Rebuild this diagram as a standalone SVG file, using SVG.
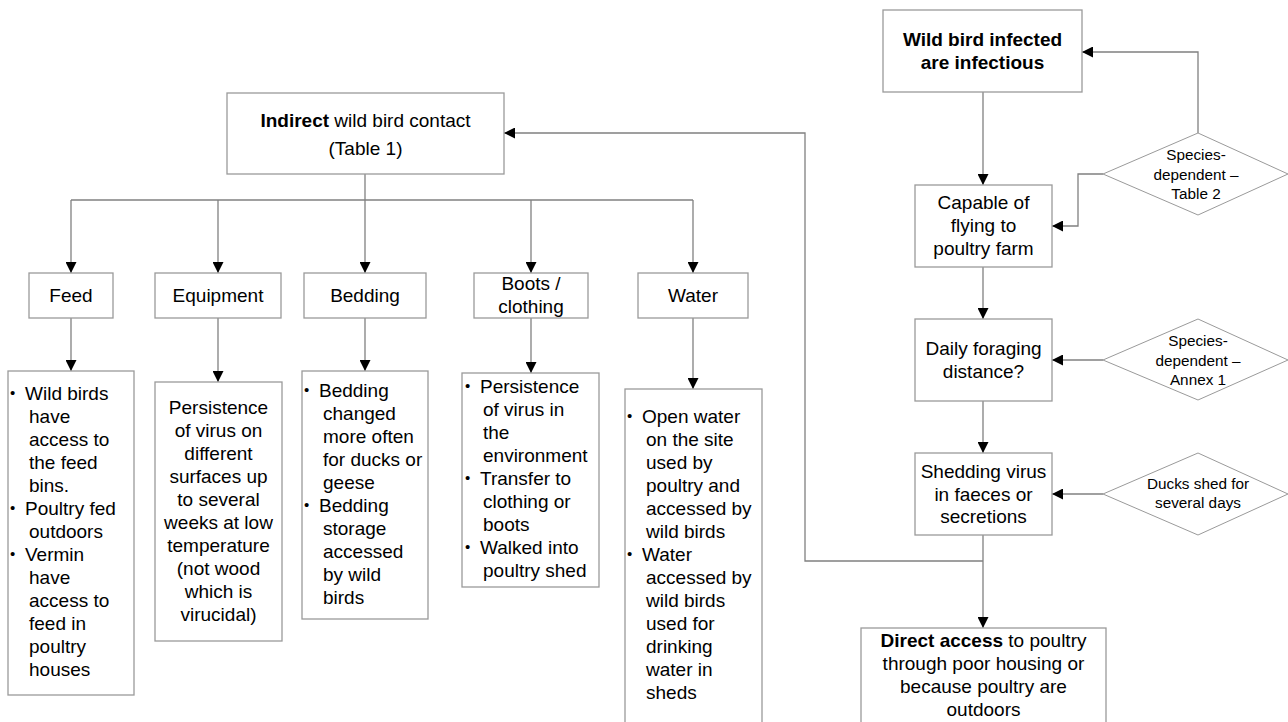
<svg xmlns="http://www.w3.org/2000/svg" width="1288" height="722" viewBox="0 0 1288 722">
<style>
.box{fill:#fff;stroke:#9a9a9a;stroke-width:1.3}
.dia{fill:#fff;stroke:#9a9a9a;stroke-width:1}
.ln{fill:none;stroke:#808080;stroke-width:1.3}
text{font-family:"Liberation Sans",Arial,sans-serif;font-size:19px;fill:#000}
.c{text-anchor:middle}
.s{font-size:15.3px}
.b{font-weight:bold}
.bl{font-size:15px}
</style>
<defs>
<marker id="ah" markerUnits="userSpaceOnUse" markerWidth="11" markerHeight="11" refX="11" refY="5.5" orient="auto">
<path d="M0,0 L11,5.5 L0,11 z" fill="#000"/>
</marker>
</defs>
<rect width="1288" height="722" fill="#fff"/>

<g id="connectors">
<path class="ln" d="M365,174 V200"/>
<path class="ln" d="M71,200 H693"/>
<path class="ln" d="M71,200 V273" marker-end="url(#ah)"/>
<path class="ln" d="M218,200 V273" marker-end="url(#ah)"/>
<path class="ln" d="M365,200 V273" marker-end="url(#ah)"/>
<path class="ln" d="M531,200 V273" marker-end="url(#ah)"/>
<path class="ln" d="M693,200 V273" marker-end="url(#ah)"/>
<path class="ln" d="M71,318 V371" marker-end="url(#ah)"/>
<path class="ln" d="M218,318 V382" marker-end="url(#ah)"/>
<path class="ln" d="M365,318 V371" marker-end="url(#ah)"/>
<path class="ln" d="M531,318 V373" marker-end="url(#ah)"/>
<path class="ln" d="M693,318 V389" marker-end="url(#ah)"/>
<path class="ln" d="M983,92 V185" marker-end="url(#ah)"/>
<path class="ln" d="M983,267 V319" marker-end="url(#ah)"/>
<path class="ln" d="M983,401 V453" marker-end="url(#ah)"/>
<path class="ln" d="M983,535 V628" marker-end="url(#ah)"/>
<path class="ln" d="M983,561 H805 V133 H504" marker-end="url(#ah)"/>
<path class="ln" d="M1198,133 V52 H1082" marker-end="url(#ah)"/>
<path class="ln" d="M1103,174 H1078 V226 H1052" marker-end="url(#ah)"/>
<path class="ln" d="M1103,360 H1052" marker-end="url(#ah)"/>
<path class="ln" d="M1103,494 H1052" marker-end="url(#ah)"/>
</g>

<g id="indirect">
<rect class="box" x="227" y="93" width="277" height="81"/>
<text class="c" x="365.5" y="127"><tspan class="b">Indirect</tspan> wild bird contact</text>
<text class="c" x="365.5" y="155">(Table 1)</text>
</g>

<g id="feed">
<rect class="box" x="29" y="273" width="84" height="45"/>
<text class="c" x="71" y="301.5">Feed</text>
</g>
<g id="equipment">
<rect class="box" x="155" y="273" width="126" height="45"/>
<text class="c" x="218" y="301.5">Equipment</text>
</g>
<g id="bedding">
<rect class="box" x="304" y="273" width="122" height="45"/>
<text class="c" x="365" y="301.5">Bedding</text>
</g>
<g id="boots">
<rect class="box" x="474" y="273" width="114" height="45"/>
<text class="c" x="531" y="290">Boots /</text>
<text class="c" x="531" y="313">clothing</text>
</g>
<g id="water">
<rect class="box" x="638" y="273" width="110" height="45"/>
<text class="c" x="693" y="301.5">Water</text>
</g>

<g id="feed-detail">
<rect class="box" x="8" y="371" width="126" height="324"/>
<text class="bl" x="10" y="398">•</text>
<text x="25" y="400">Wild birds</text>
<text x="29" y="423">have</text>
<text x="29" y="446">access to</text>
<text x="29" y="469">the feed</text>
<text x="29" y="492">bins.</text>
<text class="bl" x="10" y="513">•</text>
<text x="25" y="515">Poultry fed</text>
<text x="29" y="538">outdoors</text>
<text class="bl" x="10" y="559">•</text>
<text x="25" y="561">Vermin</text>
<text x="29" y="584">have</text>
<text x="29" y="607">access to</text>
<text x="29" y="630">feed in</text>
<text x="29" y="653">poultry</text>
<text x="29" y="676">houses</text>
</g>

<g id="equipment-detail">
<rect class="box" x="155" y="382" width="127" height="259"/>
<text class="c" x="218.5" y="414">Persistence</text>
<text class="c" x="218.5" y="437">of virus on</text>
<text class="c" x="218.5" y="460">different</text>
<text class="c" x="218.5" y="483">surfaces up</text>
<text class="c" x="218.5" y="506">to several</text>
<text class="c" x="218.5" y="529">weeks at low</text>
<text class="c" x="218.5" y="552">temperature</text>
<text class="c" x="218.5" y="575">(not wood</text>
<text class="c" x="218.5" y="598">which is</text>
<text class="c" x="218.5" y="621">virucidal)</text>
</g>

<g id="bedding-detail">
<rect class="box" x="302" y="371" width="126" height="248"/>
<text class="bl" x="304" y="395">•</text>
<text x="319" y="397">Bedding</text>
<text x="323" y="420">changed</text>
<text x="323" y="443">more often</text>
<text x="323" y="466">for ducks or</text>
<text x="323" y="489">geese</text>
<text class="bl" x="304" y="510">•</text>
<text x="319" y="512">Bedding</text>
<text x="323" y="535">storage</text>
<text x="323" y="558">accessed</text>
<text x="323" y="581">by wild</text>
<text x="323" y="604">birds</text>
</g>

<g id="boots-detail">
<rect class="box" x="462" y="373" width="137" height="214"/>
<text class="bl" x="465" y="391">•</text>
<text x="480" y="393">Persistence</text>
<text x="483" y="416">of virus in</text>
<text x="483" y="439">the</text>
<text x="483" y="462">environment</text>
<text class="bl" x="465" y="483">•</text>
<text x="480" y="485">Transfer to</text>
<text x="483" y="508">clothing or</text>
<text x="483" y="531">boots</text>
<text class="bl" x="465" y="552">•</text>
<text x="480" y="554">Walked into</text>
<text x="483" y="577">poultry shed</text>
</g>

<g id="water-detail">
<rect class="box" x="625" y="389" width="137" height="345"/>
<text class="bl" x="627" y="421">•</text>
<text x="642" y="423">Open water</text>
<text x="646" y="446">on the site</text>
<text x="646" y="469">used by</text>
<text x="646" y="492">poultry and</text>
<text x="646" y="515">accessed by</text>
<text x="646" y="538">wild birds</text>
<text class="bl" x="627" y="559">•</text>
<text x="642" y="561">Water</text>
<text x="646" y="584">accessed by</text>
<text x="646" y="607">wild birds</text>
<text x="646" y="630">used for</text>
<text x="646" y="653">drinking</text>
<text x="646" y="676">water in</text>
<text x="646" y="699">sheds</text>
</g>

<g id="wild-bird">
<rect class="box" x="883" y="10" width="199" height="82"/>
<text class="c b" x="982.5" y="46">Wild bird infected</text>
<text class="c b" x="982.5" y="69">are infectious</text>
</g>

<g id="capable">
<rect class="box" x="915" y="185" width="137" height="82"/>
<text class="c" x="983.5" y="209">Capable of</text>
<text class="c" x="983.5" y="232">flying to</text>
<text class="c" x="983.5" y="255">poultry farm</text>
</g>

<g id="daily">
<rect class="box" x="915" y="319" width="137" height="82"/>
<text class="c" x="983.5" y="355">Daily foraging</text>
<text class="c" x="983.5" y="378">distance?</text>
</g>

<g id="shedding">
<rect class="box" x="915" y="453" width="137" height="82"/>
<text class="c" x="983.5" y="478">Shedding virus</text>
<text class="c" x="983.5" y="500.5">in faeces or</text>
<text class="c" x="983.5" y="523">secretions</text>
</g>

<g id="direct">
<rect class="box" x="861" y="628" width="245" height="110"/>
<text class="c" x="983.5" y="647"><tspan class="b">Direct access</tspan> to poultry</text>
<text class="c" x="983.5" y="670">through poor housing or</text>
<text class="c" x="983.5" y="693">because poultry are</text>
<text class="c" x="983.5" y="716">outdoors</text>
</g>

<g id="diamond-table2">
<polygon class="dia" points="1198,133 1288,174 1198,215 1103,174"/>
<text class="c s" x="1196" y="160">Species-</text>
<text class="c s" x="1196" y="180">dependent –</text>
<text class="c s" x="1196" y="199">Table 2</text>
</g>

<g id="diamond-annex1">
<polygon class="dia" points="1198,319 1288,360 1198,400 1103,360"/>
<text class="c s" x="1198" y="346">Species-</text>
<text class="c s" x="1198" y="366">dependent –</text>
<text class="c s" x="1198" y="385">Annex 1</text>
</g>

<g id="diamond-ducks">
<polygon class="dia" points="1198,453 1288,494 1198,535 1103,494"/>
<text class="c s" x="1198" y="489">Ducks shed for</text>
<text class="c s" x="1198" y="508">several days</text>
</g>
</svg>
